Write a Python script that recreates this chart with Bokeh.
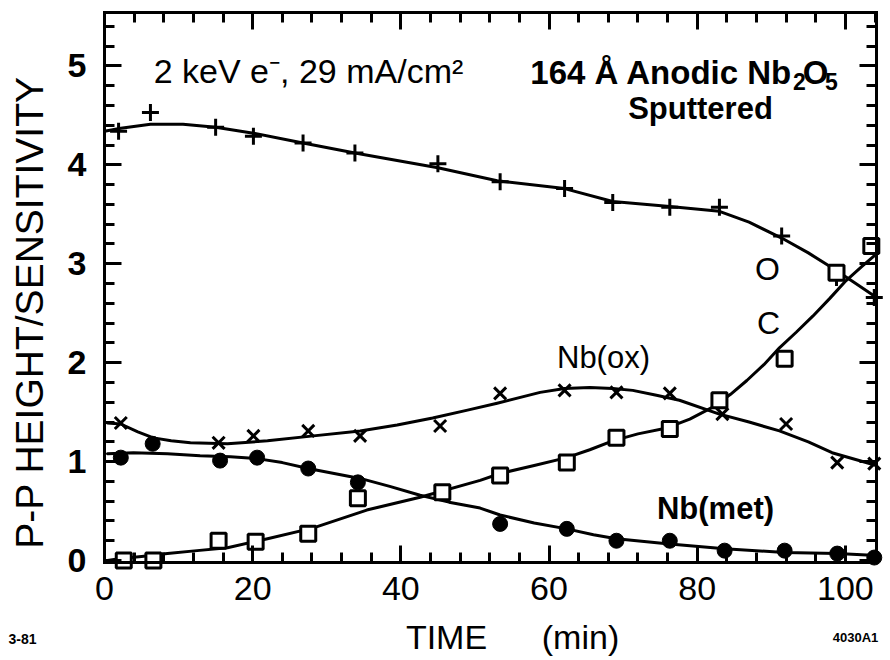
import math
from bokeh.plotting import figure
from bokeh.models import Range1d, LinearAxis, FixedTicker, Label
from bokeh.embed import file_html
from bokeh.resources import INLINE

# ---------------- data ----------------
# O  (+ markers)
o_t = [1.9, 6.2, 15.0, 20.1, 26.8, 33.8, 45.0, 53.4, 62.1, 68.6, 76.3, 83.0, 91.4, 98.8, 103.9]
o_v = [4.34, 4.53, 4.38, 4.29, 4.22, 4.12, 4.01, 3.83, 3.76, 3.62, 3.57, 3.57, 3.28, 2.86, 2.66]
o_fit_t = [0.0, 2.2, 6.2, 10.6, 15.0, 20.1, 26.8, 33.8, 45.0, 53.0, 62.1, 68.6, 76.3, 83.0, 87.0, 91.4, 95.0, 98.2, 101.0, 104.2]
o_fit_v = [4.34, 4.37, 4.41, 4.41, 4.38, 4.32, 4.22, 4.12, 3.97, 3.84, 3.76, 3.63, 3.58, 3.53, 3.42, 3.26, 3.11, 2.96, 2.82, 2.66]

# Nb(ox)  (x markers)
nbox_t = [2.2, 15.4, 20.1, 27.5, 34.5, 45.3, 53.4, 62.1, 69.1, 76.3, 83.4, 92.0, 98.9, 103.9]
nbox_v = [1.39, 1.19, 1.26, 1.31, 1.26, 1.36, 1.69, 1.72, 1.70, 1.69, 1.48, 1.38, 0.99, 0.98]
nbox_fit_t = [0.4, 2.2, 4.5, 6.6, 9.0, 11.6, 16.6, 22.0, 28.2, 34.5, 39.5, 44.3, 49.0, 53.0, 58.8, 62.1, 65.5, 68.6, 71.3, 74.5, 77.6, 83.0, 87.0, 91.1, 95.0, 98.2, 104.2]
nbox_fit_v = [1.39, 1.38, 1.30, 1.24, 1.21, 1.19, 1.18, 1.21, 1.26, 1.31, 1.37, 1.44, 1.52, 1.59, 1.70, 1.74, 1.75, 1.74, 1.72, 1.67, 1.62, 1.48, 1.40, 1.31, 1.20, 1.09, 0.96]

# Nb(met)  (filled circles)
nbmet_t = [2.2, 6.5, 15.6, 20.6, 27.5, 34.2, 45.6, 53.4, 62.4, 69.1, 76.3, 83.7, 91.8, 98.9, 103.9]
nbmet_v = [1.04, 1.18, 1.01, 1.04, 0.93, 0.79, 0.68, 0.37, 0.32, 0.20, 0.20, 0.10, 0.10, 0.07, 0.03]
nbmet_fit_t = [0.4, 3.9, 8.5, 12.9, 17.0, 20.6, 24.0, 27.5, 31.0, 34.5, 38.5, 42.6, 46.5, 50.7, 53.4, 58.0, 62.4, 66.0, 69.1, 75.9, 83.7, 91.8, 98.9, 104.2]
nbmet_fit_v = [1.08, 1.09, 1.08, 1.06, 1.05, 1.03, 0.99, 0.93, 0.88, 0.83, 0.75, 0.66, 0.59, 0.53, 0.46, 0.38, 0.32, 0.26, 0.22, 0.17, 0.12, 0.08, 0.07, 0.05]

# C  (open squares)
c_t = [2.6, 6.6, 15.4, 20.4, 27.5, 34.2, 45.6, 53.4, 62.4, 69.1, 76.3, 83.0, 91.8, 98.8, 103.5]
c_v = [0.00, 0.00, 0.20, 0.19, 0.27, 0.63, 0.69, 0.86, 0.99, 1.24, 1.33, 1.62, 2.04, 2.91, 3.18]
c_fit_t = [0.4, 2.2, 5.0, 8.5, 12.5, 16.6, 22.0, 28.2, 35.4, 42.6, 50.7, 53.4, 58.0, 62.4, 65.5, 68.6, 72.0, 75.9, 79.0, 82.1, 84.5, 86.7, 89.0, 91.1, 93.4, 95.6, 97.9, 100.1, 102.2, 104.2]
c_fit_v = [0.00, 0.02, 0.04, 0.07, 0.10, 0.13, 0.22, 0.33, 0.51, 0.64, 0.81, 0.88, 0.96, 1.04, 1.12, 1.21, 1.28, 1.34, 1.43, 1.55, 1.68, 1.82, 1.98, 2.15, 2.31, 2.47, 2.65, 2.83, 2.97, 3.10]

x_major = [0, 20, 40, 60, 80, 100]
x_minor = [4, 8, 12, 16, 24, 28, 32, 36, 44, 48, 52, 56, 64, 68, 72, 76, 84, 88, 92, 96, 104]
y_major = [0, 1, 2, 3, 4, 5]
y_minor = [0.2, 0.4, 0.6, 0.8, 1.2, 1.4, 1.6, 1.8, 2.2, 2.4, 2.6, 2.8,
           3.2, 3.4, 3.6, 3.8, 4.2, 4.4, 4.6, 4.8, 5.2, 5.4]

FONT = "Liberation Sans"
W, H = 890, 660
X0, X1 = 0.0, 104.2          # extent of the boxed plot area (data units)
Y0, Y1 = -0.02, 5.54
FL, FR, FT, FB = 104, 876, 12, 562   # box edges on the canvas (pixels)

sx = (FR - FL) / (X1 - X0)
sy = (FB - FT) / (Y1 - Y0)
x_range = Range1d(X0 - FL / sx, X1 + (W - FR) / sx)
y_range = Range1d(Y0 - (H - FB) / sy, Y1 + FT / sy)

p = figure(width=W, height=H, output_backend="svg", toolbar_location=None,
           x_range=x_range, y_range=y_range,
           x_axis_location=None, y_axis_location=None,
           min_border=0)
p.grid.visible = False
p.outline_line_color = None
p.background_fill_color = "white"
p.border_fill_color = "white"


def make_axis(ticks, minor, bounds, loc, show_labels):
    ax = LinearAxis(ticker=FixedTicker(ticks=ticks, minor_ticks=minor),
                    bounds=bounds, fixed_location=loc)
    ax.axis_line_color = "black"
    ax.axis_line_width = 3
    ax.axis_line_cap = "square"
    ax.major_tick_in = 17
    ax.major_tick_out = 0
    ax.minor_tick_in = 10
    ax.minor_tick_out = 0
    ax.major_tick_line_width = 3
    ax.minor_tick_line_width = 3
    ax.major_tick_line_color = "black"
    ax.minor_tick_line_color = "black"
    if show_labels:
        ax.major_label_text_font = FONT
        ax.major_label_text_font_size = "34px"
        ax.major_label_text_color = "black"
    else:
        ax.major_label_text_font_size = "0px"
        ax.major_label_standoff = 0
        ax.major_label_text_color = None
    return ax

xb = make_axis(x_major, x_minor, (X0, X1), Y0, True)
xb.major_label_standoff = 14
xt = make_axis(x_major, x_minor, (X0, X1), Y1, False)
yl = make_axis(y_major, y_minor, (Y0, Y1), X0, True)
yl.major_label_standoff = 18
yl.major_label_text_font_style = "bold"
yr = make_axis(y_major, y_minor, (Y0, Y1), X1, False)
p.add_layout(xb, "below")
p.add_layout(xt, "above")
p.add_layout(yl, "left")
p.add_layout(yr, "right")

# curves
for ft, fv in [(o_fit_t, o_fit_v), (nbox_fit_t, nbox_fit_v), (nbmet_fit_t, nbmet_fit_v), (c_fit_t, c_fit_v)]:
    p.line(ft, fv, line_color="black", line_width=3, line_join="round", line_cap="round")

# markers
p.scatter(o_t, o_v, marker="cross", size=17, line_color="black", line_width=3)
p.scatter(nbox_t, nbox_v, marker="x", size=17, line_color="black", line_width=3)
p.scatter(nbmet_t, nbmet_v, marker="circle", size=15, fill_color="black", line_color="black", line_width=1)
p.scatter(c_t, c_v, marker="square", size=15, fill_color="white", line_color="black", line_width=3)


def txt(s, px, py, size, style="normal", angle=0.0, align="center"):
    # screen units measured from the frame's bottom-left corner (frame = whole canvas)
    lab = Label(x=px, y=H - py, x_units="screen", y_units="screen", text=s,
                text_font=FONT, text_font_size=f"{size}px", text_font_style=style,
                text_color="black", text_align=align, text_baseline="middle", angle=angle)
    p.add_layout(lab)

txt("P-P HEIGHT/SENSITIVITY", 29, 312, 39, angle=math.pi / 2)
txt("TIME", 446, 636, 34)
txt("(min)", 580, 636, 34)
txt("3-81", 22, 638, 14, "bold")
txt("4030A1", 855, 637, 13, "bold")
txt("2 keV e\u207b, 29 mA/cm\u00b2", 308, 70, 34)
# 164 Å Anodic Nb2O5 with real subscripts
txt("164 \u00c5 Anodic Nb", 792, 72, 33, "bold", align="right")
txt("2", 799, 81, 23, "bold")
txt("O", 815, 72, 33, "bold")
txt("5", 831, 81, 23, "bold")
txt("Sputtered", 700, 108, 31, "bold")
txt("O", 767, 268, 32)
txt("C", 768, 322, 32)
txt("Nb(ox)", 603, 357, 31)
txt("Nb(met)", 715, 508, 31, "bold")

open("out.html", "w").write(file_html(p, INLINE))
